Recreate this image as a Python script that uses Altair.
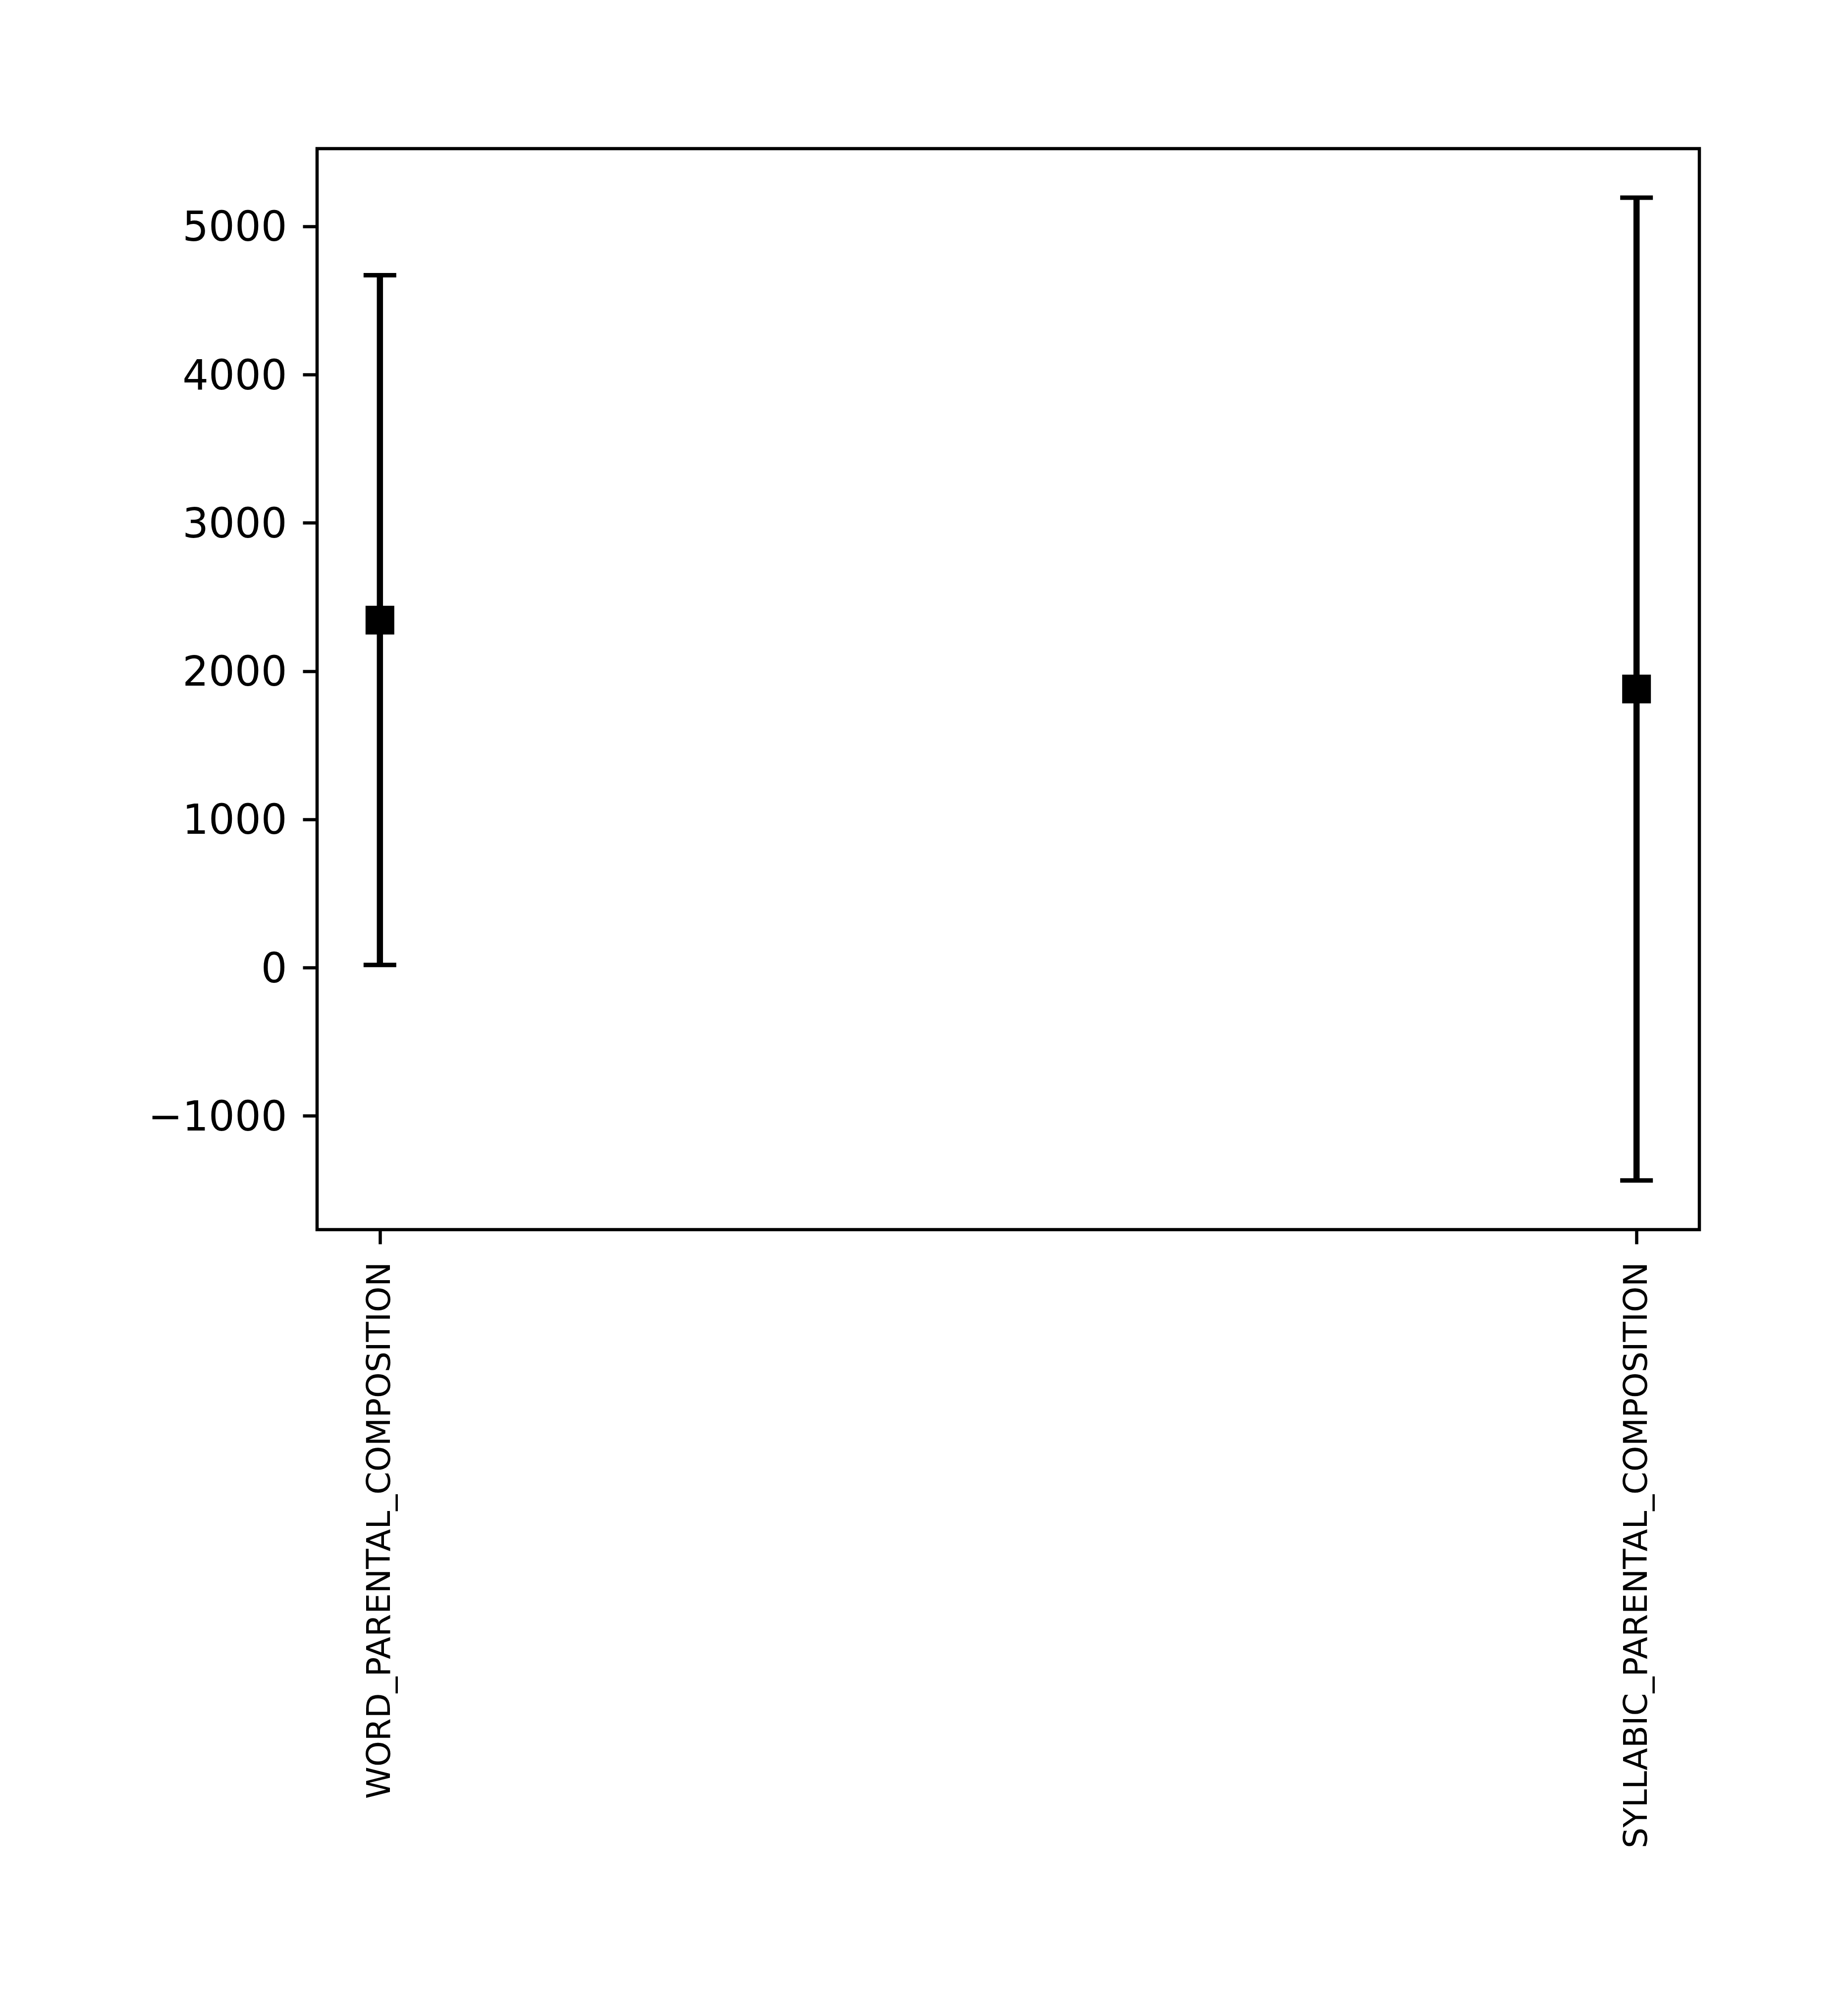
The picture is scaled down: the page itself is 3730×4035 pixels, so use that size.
import altair as alt
import pandas as pd

categories = ["WORD_PARENTAL_COMPOSITION", "SYLLABIC_PARENTAL_COMPOSITION"]
means = [2344, 1879]
errors = [2326, 3314]
y_ticks = [-1000, 0, 1000, 2000, 3000, 4000, 5000]

df = pd.DataFrame({"cat": categories, "mean": means, "err": errors})
df["lo"] = df["mean"] - df["err"]
df["hi"] = df["mean"] + df["err"]

FONT = "DejaVu Sans"
W, H = 2790, 2182

x_enc = alt.X(
    "cat:N",
    sort=categories,
    scale=alt.Scale(type="point", padding=0.05),
    axis=alt.Axis(
        title=None,
        labelAngle=270,
        labelAlign="right",
        labelBaseline="middle",
        labelFont=FONT,
        labelFontSize=66,
        labelColor="black",
        labelPadding=36,
        labelLimit=0,
        tickSize=29,
        tickWidth=6.5,
        tickColor="black",
        domain=False,
        grid=False,
    ),
)
y_scale = alt.Scale(domain=[-1767, 5524], nice=False, zero=False)
y_axis = alt.Axis(
    title=None,
    values=y_ticks,
    labelExpr="replace(format(datum.value, 'd'), '-', '\u2212')",
    labelFont=FONT,
    labelFontSize=83,
    labelColor="black",
    labelPadding=32,
    labelLimit=0,
    labelOffset=4,
    tickSize=29,
    tickWidth=6.5,
    tickColor="black",
    domain=False,
    grid=False,
)

base = alt.Chart(df)

bars = base.mark_rule(color="black", strokeWidth=12.5, opacity=1).encode(
    x=x_enc,
    y=alt.Y("lo:Q", scale=y_scale, axis=y_axis),
    y2="hi:Q",
)
cap_lo = base.mark_tick(color="black", size=66, thickness=9, orient="horizontal", opacity=1).encode(
    x=alt.X("cat:N", sort=categories), y=alt.Y("lo:Q")
)
cap_hi = base.mark_tick(color="black", size=66, thickness=9, orient="horizontal", opacity=1).encode(
    x=alt.X("cat:N", sort=categories), y=alt.Y("hi:Q")
)
pts = base.mark_square(color="black", size=3364, opacity=1, strokeWidth=0).encode(
    x=alt.X("cat:N", sort=categories), y=alt.Y("mean:Q")
)

chart = (
    alt.layer(bars, cap_lo, cap_hi, pts)
    .properties(
        width=W,
        height=H,
        autosize=alt.AutoSizeParams(type="none"),
        padding={"left": 640, "top": 300, "right": 300, "bottom": 1553},
        background="white",
    )
    .configure_view(stroke="black", strokeWidth=6.5)
)

chart.save("out.html", embed_options={"renderer": "svg", "actions": False})
